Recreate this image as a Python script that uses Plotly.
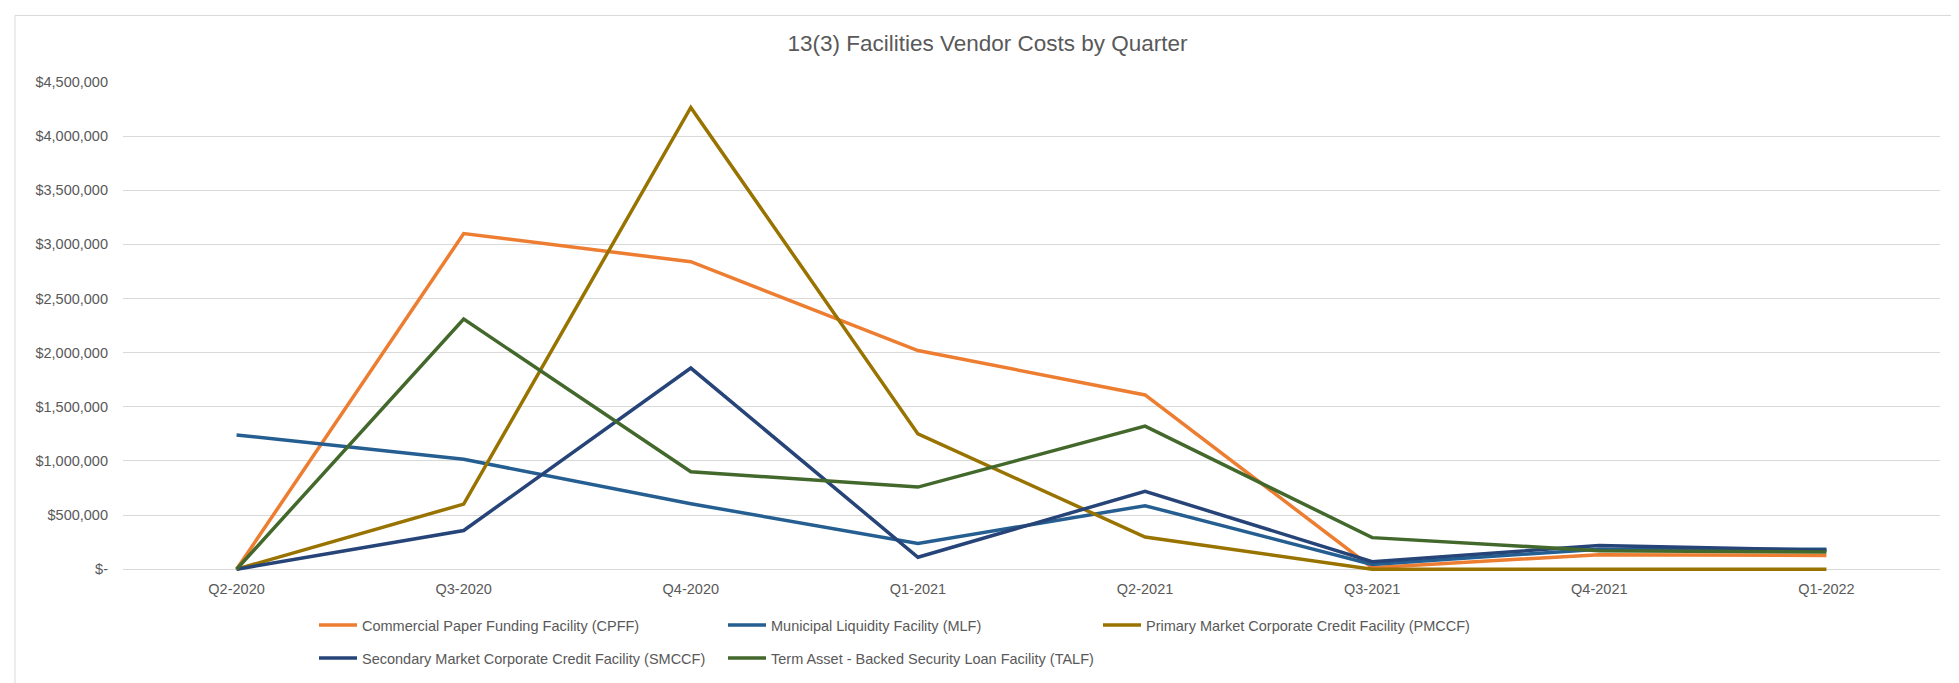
import plotly.graph_objects as go

quarters = ["Q2-2020", "Q3-2020", "Q4-2020", "Q1-2021", "Q2-2021", "Q3-2021", "Q4-2021", "Q1-2022"]

cpff = [0, 3100000, 2840000, 2020000, 1610000, 15000, 135000, 128000]
mlf = [1240000, 1015000, 605000, 238000, 587000, 45000, 185000, 185000]
pmccf = [0, 602000, 4265000, 1250000, 298000, 0, 0, 0]
smccf = [0, 358000, 1858000, 111000, 720000, 70000, 220000, 175000]
talf = [0, 2310000, 900000, 759000, 1322000, 292000, 172000, 160000]

series_names = [
    "Commercial Paper Funding Facility (CPFF)",
    "Municipal Liquidity Facility (MLF)",
    "Primary Market Corporate Credit Facility (PMCCF)",
    "Secondary Market Corporate Credit Facility (SMCCF)",
    "Term Asset - Backed Security Loan Facility (TALF)",
]
series_values = [cpff, mlf, pmccf, smccf, talf]
series_colors = ["#ED7D31", "#255E91", "#997300", "#264478", "#43682B"]

y_tickvals = [0, 500000, 1000000, 1500000, 2000000, 2500000, 3000000, 3500000, 4000000, 4500000]
y_ticktext = ["$-", "$500,000", "$1,000,000", "$1,500,000", "$2,000,000", "$2,500,000",
              "$3,000,000", "$3,500,000", "$4,000,000", "$4,500,000"]

W, H = 1959, 683
ML, MR, MT, MB = 115, 27, 74, 108
PW = W - ML - MR
PH = H - MT - MB

FONT = "Liberation Sans, Arial, sans-serif"
TXT = "#595959"

# legend entry placement (left edge px, row centre px)
LEG_X = [306, 715, 1090, 306, 715]
LEG_Y = [617, 617, 617, 650, 650]
LEG_IDS = ["legend", "legend2", "legend3", "legend4", "legend5"]

fig = go.Figure()
for name, vals, col, lg in zip(series_names, series_values, series_colors, LEG_IDS):
    fig.add_trace(go.Scatter(
        x=quarters, y=vals, mode="lines", name=name,
        line=dict(color=col, width=3.5), legend=lg,
    ))


def px_x(p):
    return (p - ML) / PW


def px_y(p):
    return (H - MB - p) / PH


legends = {}
for lid, lx, ly in zip(LEG_IDS, LEG_X, LEG_Y):
    legends[lid] = dict(orientation="h", xref="container", yref="container",
                        x=lx / W, xanchor="left", y=1 - ly / H, yanchor="middle",
                        itemwidth=38,
                        font=dict(family=FONT, size=14.5, color=TXT),
                        bgcolor="rgba(0,0,0,0)", borderwidth=0)

fig.update_layout(
    width=W, height=H,
    margin=dict(l=ML, r=MR, t=MT, b=MB),
    paper_bgcolor="white", plot_bgcolor="white",
    font=dict(family=FONT, size=14.5, color=TXT),
    title=dict(text="13(3) Facilities Vendor Costs by Quarter",
               x=0.5, xref="container", xanchor="center",
               y=1 - 35 / H, yref="container", yanchor="middle",
               font=dict(family=FONT, size=22.5, color=TXT)),
    xaxis=dict(type="category", range=[-0.5, 7.5], showgrid=False, showline=False,
               zeroline=False, ticks="", tickfont=dict(size=14.5, color=TXT),
               ticklabelstandoff=6),
    yaxis=dict(range=[-30000, 4500000], tickvals=y_tickvals, ticktext=y_ticktext,
               showgrid=True, gridcolor="#D9D9D9", gridwidth=1, zeroline=False,
               showline=False, ticks="", tickfont=dict(size=14.5, color=TXT),
               ticklabelstandoff=14),
    showlegend=True,
    shapes=[dict(type="rect", xref="paper", yref="paper",
                 x0=px_x(7), x1=px_x(1951), y0=px_y(700), y1=px_y(6),
                 line=dict(color="#D9D9D9", width=1), fillcolor="rgba(0,0,0,0)",
                 layer="below")],
    **legends,
)

fig.write_html("out.html")
